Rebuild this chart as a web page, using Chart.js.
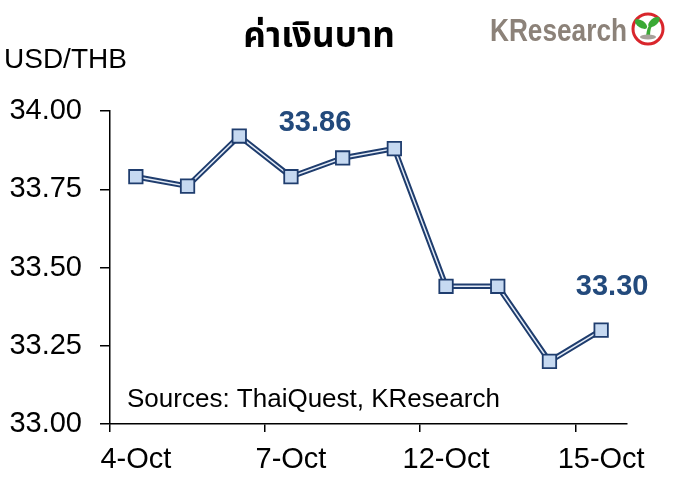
<!DOCTYPE html>
<html>
<head>
<meta charset="utf-8">
<script src="https://cdn.jsdelivr.net/npm/chart.js@4.4.1/dist/chart.umd.min.js"></script>
<style>
  body { margin: 0; background: #fff; }
  #wrap { width: 685px; height: 490px; }
</style>
</head>
<body>
<div id="wrap"><canvas id="fxChart" width="685" height="490"></canvas></div>
<script>
// data
var dates = ['4-Oct', '5-Oct', '6-Oct', '7-Oct', '8-Oct', '11-Oct', '12-Oct', '13-Oct', '14-Oct', '15-Oct'];
var usdThb = [33.79, 33.76, 33.92, 33.79, 33.85, 33.88, 33.44, 33.44, 33.20, 33.30];
var yTicks = [33.00, 33.25, 33.50, 33.75, 34.00];
var shownDates = ['4-Oct', '7-Oct', '12-Oct', '15-Oct'];

var FONT = "'Liberation Sans', Arial, sans-serif";
var DARK = '#1f3d6e';

// titles, logo, notes
var decor = {
    id: 'decor',
    afterDraw: function(chart) {
        var c = chart.ctx;
        c.save();
        c.fillStyle = '#000';
        c.textBaseline = 'middle';

        c.font = "bold 35px 'Noto Sans Thai', 'Noto Sans', 'DejaVu Sans', sans-serif";
        c.textAlign = 'center';
        c.fillText('ค่าเงินบาท', 319, 40);

        c.font = '28px ' + FONT;
        c.textAlign = 'left';
        c.fillText('USD/THB', 4, 60);

        c.font = '26px ' + FONT;
        c.fillText('Sources: ThaiQuest, KResearch', 127, 400);

        // value notes
        c.fillStyle = '#234a7c';
        c.font = 'bold 29px ' + FONT;
        c.textAlign = 'center';
        c.fillText('33.86', 315, 123);
        var x = chart.scales.x, y = chart.scales.y;
        c.fillText(usdThb[9].toFixed(2), x.getPixelForValue(9) + 11, y.getPixelForValue(usdThb[9]) - 43);

        // logo
        c.fillStyle = '#8c8279';
        c.font = 'bold 31px ' + FONT;
        c.textAlign = 'left';
        c.textBaseline = 'alphabetic';
        var w = c.measureText('KResearch').width;
        c.save();
        c.translate(490, 41);
        c.scale(137 / w, 1);
        c.fillText('KResearch', 0, 0);
        c.restore();
        c.beginPath();
        c.arc(648, 29, 15, 0, Math.PI * 2);
        c.fillStyle = '#fff';
        c.fill();
        c.lineWidth = 3;
        c.strokeStyle = '#d9262c';
        c.stroke();
        c.fillStyle = '#3aa935';
        c.beginPath();
        c.ellipse(641, 24, 7, 3.5, 0.6, 0, Math.PI * 2);
        c.fill();
        c.beginPath();
        c.ellipse(654, 22, 7, 3.5, -0.7, 0, Math.PI * 2);
        c.fill();
        c.beginPath();
        c.moveTo(646, 36);
        c.quadraticCurveTo(647, 26, 652, 22);
        c.lineTo(653, 24);
        c.quadraticCurveTo(650, 28, 650, 36);
        c.fill();
        c.fillStyle = '#a7a19b';
        c.beginPath();
        c.ellipse(648, 37, 8, 2.5, 0, 0, Math.PI * 2);
        c.fill();
        c.restore();
    }
};

var ctx = document.getElementById('fxChart').getContext('2d');
var chart = new Chart(ctx, {
    type: 'line',
    data: {
        labels: dates,
        datasets: [{
            // light centre of the double line + markers
            data: usdThb,
            borderColor: '#e4ecf7',
            borderWidth: 1.5,
            pointStyle: 'rect',
            pointRadius: 9.5,
            pointBackgroundColor: '#c6d9f1',
            pointBorderColor: DARK,
            pointBorderWidth: 1.8,
            tension: 0
        }, {
            data: usdThb,
            borderColor: DARK,
            borderWidth: 5.5,
            pointRadius: 0,
            tension: 0
        }]
    },
    options: {
        responsive: false,
        animation: false,
        events: [],
        layout: { padding: { top: 111, right: 58, bottom: 0, left: 0 } },
        plugins: {
            legend: { display: false },
            tooltip: { enabled: false },
            title: { display: false }
        },
        scales: {
            x: {
                offset: true,
                afterFit: function(s) { s.height = 66; },
                border: { display: true, color: '#000', width: 1.5 },
                grid: {
                    offset: true,
                    drawOnChartArea: false,
                    drawTicks: true,
                    tickLength: 8,
                    lineWidth: 1.5,
                    color: function(c) { return c.index % 3 === 0 ? '#000' : 'rgba(0,0,0,0)'; }
                },
                ticks: {
                    autoSkip: false,
                    maxRotation: 0,
                    padding: 11,
                    color: '#000',
                    font: { family: FONT, size: 29 },
                    callback: function(v, i) { return shownDates.indexOf(dates[i]) >= 0 ? dates[i] : ''; }
                }
            },
            y: {
                min: 33,
                max: 34,
                afterFit: function(s) { s.width = 110; },
                afterBuildTicks: function(s) { s.ticks = yTicks.map(function(v) { return { value: v }; }); },
                border: { display: true, color: '#000', width: 1.5 },
                grid: {
                    drawOnChartArea: false,
                    drawTicks: true,
                    tickLength: 10,
                    lineWidth: 1.5,
                    color: '#000'
                },
                ticks: {
                    padding: 18,
                    color: '#000',
                    font: { family: FONT, size: 29 },
                    callback: function(v) { return v.toFixed(2); }
                }
            }
        }
    },
    plugins: [decor]
});
</script>
</body>
</html>
